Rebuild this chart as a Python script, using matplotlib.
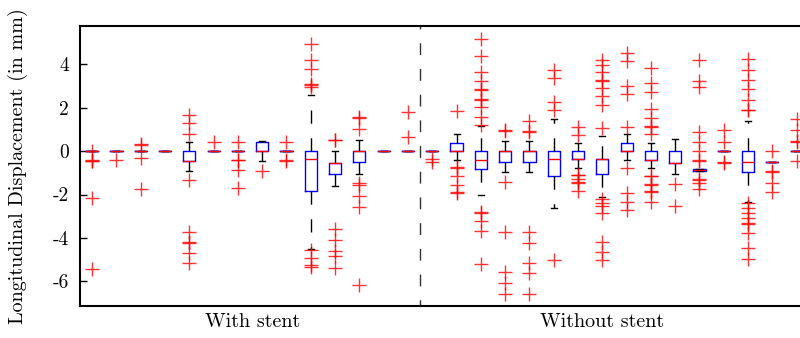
import matplotlib
matplotlib.use("Agg")
import matplotlib.pyplot as plt

plt.rcParams['font.family'] = ['cmr10', 'DejaVu Serif']
plt.rcParams['axes.unicode_minus'] = False
plt.rcParams['axes.formatter.use_mathtext'] = True

# box statistics per location (1..14 with stent, 15..30 without stent)
medians = [0, 0, 0, 0, -0.44, 0, 0, 0, 0, -0.38, -0.54, 0, 0, 0,
           0, 0, -0.41, 0, 0, -0.37, -0.38, -0.37, 0, -0.41, -0.54, -0.87,
           0, -0.49, -0.49, 0]
q1s = [0, 0, 0, 0, -0.44, 0, 0, 0, 0, -1.82, -1.06, -0.52, 0, 0,
       0, 0, -0.83, -0.49, -0.49, -1.15, -0.38, -1.07, 0, -0.41, -0.54, -0.9,
       0, -0.95, -0.49, 0]
q3s = [0, 0, 0, 0, 0, 0, 0, 0.4, 0, 0, -0.54, 0, 0, 0,
       0, 0.35, 0, 0, 0, 0, 0, -0.37, 0.35, 0, 0, -0.84,
       0, 0, -0.49, 0]
whisk_lo = [0, 0, 0, 0, -0.9, 0, 0, -0.46, 0, -4.49, -1.59, -1.06, 0, 0,
            0, -0.41, -2.02, -0.98, -0.98, -2.64, -0.77, -2.13, -0.41, -0.8, -1.07, -0.9,
            0, -2.36, -0.49, 0]
whisk_hi = [0, 0, 0, 0, 0.41, 0, 0, 0.47, 0, 2.59, 0, 0.52, 0, 0,
            0, 0.78, 1.15, 0.48, 0.46, 1.49, 0.38, 0.7, 0.77, 0.38, 0.54, -0.84,
            0, 1.38, -0.49, 0]
outliers = [
    [0.02, -0.41, -0.44, -0.47, -2.15, -5.45],
    [-0.41],
    [0.34, 0.30, -0.34, -1.75],
    [],
    [1.65, 1.27, 0.77, -1.33, -3.74, -4.2, -4.25, -4.67, -5.13],
    [0.43],
    [0.4, -0.39, -0.42, -0.87, -1.72],
    [-0.9],
    [0.4, -0.43, -0.46],
    [4.92, 4.18, 3.77, 3.1, 3.03, 2.97, -4.55, -4.9, -5.25, -5.32],
    [0.49, 0.53, -3.59, -4.09, -4.58, -4.83, -5.38],
    [1.55, 1.5, 1.01, -1.49, -1.55, -2.05, -2.59, -6.16],
    [],
    [1.78, 0.63],
    [-0.38, -0.5],
    [1.85, -0.75, -0.79, -1.13, -1.56, -1.9, -1.95],
    [5.18, 4.37, 3.62, 3.22, 2.87, 2.83, 2.41, 2.37, 2.01, 1.58, 1.2,
     -2.8, -2.85, -3.22, -3.66, -5.21],
    [0.95, 0.91, -1.44, -3.74, -5.58, -6.08, -6.57],
    [1.38, 0.94, 0.9, -3.74, -4.25, -5.16, -5.62, -6.57],
    [3.72, 3.37, 2.24, 1.89, -5.01],
    [1.09, 0.74, -1.08, -1.12, -1.28, -1.44, -1.48, -1.82],
    [4.18, 3.98, 3.62, 3.28, 3.24, 2.91, 2.53, 2.11, 1.04,
     -2.2, -2.38, -2.55, -2.84, -4.17, -4.63, -5.01],
    [4.52, 4.14, 3.0, 2.62, 1.12, -0.8, -1.95, -2.33, -2.71],
    [3.83, 3.11, 2.73, 1.92, 1.53, 1.17, 1.13, 0.8,
     -1.13, -1.17, -1.5, -1.54, -1.85, -1.89, -2.36],
    [-1.53, -2.53],
    [4.21, 3.22, 2.96, 0.86, 0.43, 0.0, -0.41, -0.44, -1.27, -1.31, -1.49, -1.75],
    [0.97, 0.43, -0.52, -0.56],
    [4.23, 3.72, 3.26, 2.84, 2.34, 1.91, 1.87,
     -2.4, -2.64, -2.84, -3.1, -3.31, -3.35, -3.79, -4.48, -4.98],
    [0.0, -0.93, -0.97, -1.49, -1.87],
    [1.47, 0.97, 0.48, 0.44, -0.44],
]
n_with = 14
group_labels = ["With stent", "Without stent"]
group_label_pos = [7.6, 22.0]
yticks = [-6, -4, -2, 0, 2, 4]

stats = []
for i in range(len(medians)):
    stats.append({
        "med": medians[i], "q1": q1s[i], "q3": q3s[i],
        "whislo": whisk_lo[i], "whishi": whisk_hi[i],
        "fliers": outliers[i],
    })

fig = plt.figure(figsize=(8.0, 3.38), dpi=100)
ax = fig.add_axes([0.1, 0.0947, 0.911, 0.828])

positions = list(range(1, len(stats) + 1))
ax.bxp(stats, positions=positions, widths=0.5, showfliers=True,
       boxprops=dict(color="blue", linewidth=1.0),
       medianprops=dict(color="red", linewidth=1.0),
       whiskerprops=dict(color="black", linewidth=1.0, linestyle=(0, (9.5, 10.5))),
       capprops=dict(color="black", linewidth=1.0),
       flierprops=dict(marker="+", markeredgecolor="red", markersize=10,
                       markeredgewidth=1.0, linestyle="none", alpha=0.8))

# separator between the two groups
ax.axvline(n_with + 0.5, color="#333333", linewidth=1.0, linestyle=(4, (8.5, 10)))

ax.set_xlim(0.5, len(stats) + 0.5)
ax.set_ylim(-7.13, 5.75)
ax.set_yticks(yticks)
ax.set_yticklabels([str(t) for t in yticks], fontsize=14)
ax.set_xticks(group_label_pos)
ax.set_xticklabels(group_labels, fontsize=14.5)
ax.tick_params(axis="x", length=0, pad=5)
ax.tick_params(axis="y", direction="in", length=5, width=1, pad=8)
ax.set_ylabel("Longitudinal Displacement (in mm)", fontsize=14.5, labelpad=18)

for s in ax.spines.values():
    s.set_linewidth(1.5)

fig.savefig("out.png", dpi=100)
